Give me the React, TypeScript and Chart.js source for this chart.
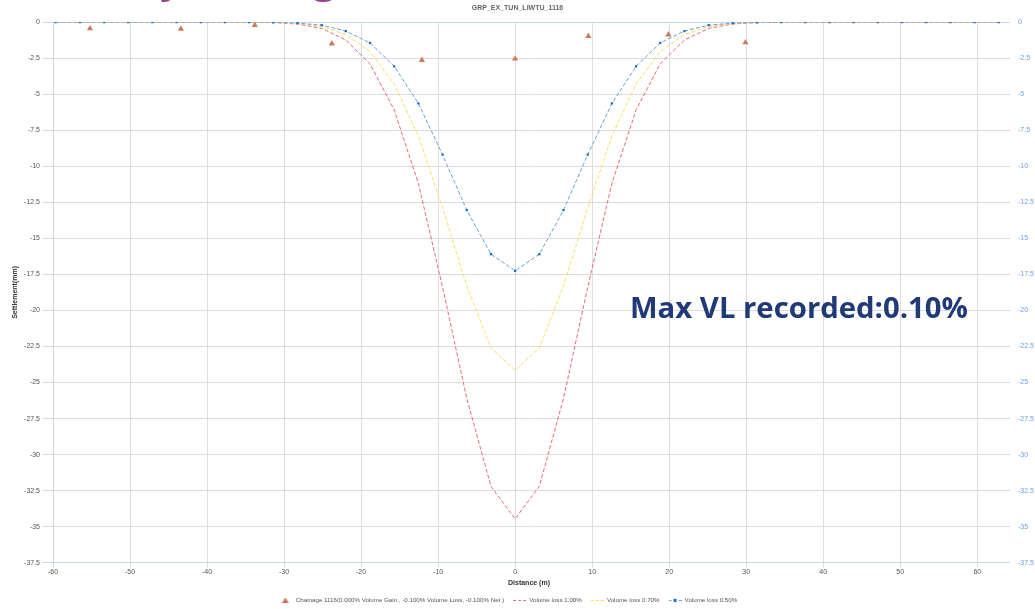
import React, { useEffect, useRef } from "react";
import { Chart, registerables } from "chart.js";

Chart.register(...registerables);

const FONT = "'Liberation Sans', Arial, sans-serif";

const chartTitle = "GRP_EX_TUN_LIWTU_1116";
const xAxisTitle = "Distance (m)";
const yAxisTitle = "Settlement(mm)";
const overlayText = "Max VL recorded:0.10%";

const legendLabels = [
  "Chainage 1116(0.000% Volume Gain , -0.100% Volume Loss, -0.100% Net )",
  "Volume loss 1.00%",
  "Volume loss 0.70%",
  "Volume loss 0.50%",
];

const distances = [
  -59.66, -56.52, -53.38, -50.24, -47.1, -43.96, -40.82, -37.68, -34.54, -31.4,
  -28.26, -25.12, -21.98, -18.84, -15.7, -12.56, -9.42, -6.28, -3.14, 0,
  3.14, 6.28, 9.42, 12.56, 15.7, 18.84, 21.98, 25.12, 28.26, 31.4,
  34.54, 37.68, 40.82, 43.96, 47.1, 50.24, 53.38, 56.52, 59.66, 62.8,
];

const volumeLoss100 = [
  0, 0, 0, 0, 0, 0, 0, 0, -0.01, -0.04,
  -0.14, -0.44, -1.25, -2.9, -6.1, -11.2, -18.4, -26.1, -32.2, -34.45,
  -32.2, -26.1, -18.4, -11.2, -6.1, -2.9, -1.25, -0.44, -0.14, -0.04,
  -0.01, 0, 0, 0, 0, 0, 0, 0, 0, 0,
];

const volumeLoss070 = [
  0, 0, 0, 0, 0, 0, 0, 0, 0, -0.03,
  -0.1, -0.3, -0.87, -2.05, -4.3, -7.9, -12.9, -18.3, -22.6, -24.15,
  -22.6, -18.3, -12.9, -7.9, -4.3, -2.05, -0.87, -0.3, -0.1, -0.03,
  0, 0, 0, 0, 0, 0, 0, 0, 0, 0,
];

const volumeLoss050 = [
  0, 0, 0, 0, 0, 0, 0, 0, 0, -0.02,
  -0.08, -0.22, -0.63, -1.45, -3.07, -5.65, -9.2, -13.05, -16.1, -17.25,
  -16.1, -13.05, -9.2, -5.65, -3.07, -1.45, -0.63, -0.22, -0.08, -0.02,
  0, 0, 0, 0, 0, 0, 0, 0, 0, 0,
];

const chainageX = [-55.2, -43.4, -33.8, -23.8, -12.1, 0, 9.5, 19.9, 29.9];
const chainageY = [-0.45, -0.48, -0.22, -1.5, -2.65, -2.55, -0.98, -0.88, -1.42];

const xMin = -60;
const xMax = 63.6;
const xStep = 10;
const yMin = -37.5;
const yMax = 0;
const yStep = 2.5;

const COLORS = {
  chainage: "#c97b5b",
  vl100: "#e96b79",
  vl070: "#fbdc5a",
  vl050: "#6aa1d8",
  vl050Point: "#1a6fc4",
  grid: "#dcdcdc",
  gridX: "#dcdee3",
  edge: "#c6d6ec",
  tick: "#555555",
  tickRight: "#6b9fe4",
};

function makeLineSwatch(color: string, withPoint: boolean, pointColor?: string) {
  const c = document.createElement("canvas");
  c.width = 13;
  c.height = 6;
  const g = c.getContext("2d")!;
  g.strokeStyle = color;
  g.lineWidth = 1;
  g.setLineDash([3, 2]);
  g.beginPath();
  g.moveTo(0, 3.5);
  g.lineTo(13, 3.5);
  g.stroke();
  if (withPoint && pointColor) {
    g.fillStyle = pointColor;
    g.fillRect(5, 2, 3, 3);
  }
  return c;
}

function makeTriangleSwatch(color: string) {
  const c = document.createElement("canvas");
  c.width = 13;
  c.height = 6;
  const g = c.getContext("2d")!;
  g.fillStyle = color;
  g.beginPath();
  g.moveTo(5.5, 0.5);
  g.lineTo(9, 6);
  g.lineTo(2, 6);
  g.closePath();
  g.fill();
  return c;
}

const legendShift = {
  id: "legendShift",
  afterLayout(chart: any) {
    const lg = chart.legend;
    if (lg) {
      lg.left -= 9;
      lg.right -= 9;
    }
  },
};

export default function App() {
  const canvasRef = useRef<HTMLCanvasElement | null>(null);

  useEffect(() => {
    const canvas = canvasRef.current;
    if (!canvas) return;

    const swatches = [
      makeTriangleSwatch(COLORS.chainage),
      makeLineSwatch(COLORS.vl100, false),
      makeLineSwatch(COLORS.vl070, false),
      makeLineSwatch(COLORS.vl050, true, COLORS.vl050Point),
    ];

    const toPoints = (vals: number[]) => distances.map((x, i) => ({ x, y: vals[i] }));

    const chart = new Chart(canvas, {
      type: "line",
      data: {
        datasets: [
          {
            label: legendLabels[0],
            data: chainageX.map((x, i) => ({ x, y: chainageY[i] })),
            showLine: false,
            pointStyle: "triangle",
            pointRadius: 3.6,
            pointBackgroundColor: COLORS.chainage,
            pointBorderColor: COLORS.chainage,
            pointBorderWidth: 0,
            borderColor: COLORS.chainage,
            backgroundColor: COLORS.chainage,
            order: 0,
          },
          {
            label: legendLabels[1],
            data: toPoints(volumeLoss100),
            borderColor: COLORS.vl100,
            borderWidth: 1,
            borderDash: [4, 2],
            pointRadius: 0,
            tension: 0,
            order: 3,
          },
          {
            label: legendLabels[2],
            data: toPoints(volumeLoss070),
            borderColor: COLORS.vl070,
            borderWidth: 1,
            borderDash: [4, 2],
            pointRadius: 0,
            tension: 0,
            order: 2,
          },
          {
            label: legendLabels[3],
            data: toPoints(volumeLoss050),
            borderColor: COLORS.vl050,
            borderWidth: 1,
            borderDash: [4, 2],
            pointRadius: 1.6,
            pointStyle: "rect",
            pointBackgroundColor: COLORS.vl050Point,
            pointBorderColor: COLORS.vl050Point,
            pointBorderWidth: 0,
            tension: 0,
            order: 1,
          },
        ],
      },
      plugins: [legendShift],
      options: {
        animation: false,
        responsive: false,
        maintainAspectRatio: false,
        layout: { padding: { left: 0, right: 0, top: 0, bottom: -4 } },
        plugins: {
          title: {
            display: true,
            text: chartTitle,
            color: "#666666",
            font: { size: 7, weight: "bold", family: FONT },
            padding: { top: 4, bottom: 9.6 },
          },
          legend: {
            position: "bottom",
            labels: {
              usePointStyle: true,
              pointStyleWidth: 13,
              boxHeight: 6,
              padding: 9,
              color: "#555555",
              font: { size: 6.2, family: FONT },
              generateLabels: (ch: any) =>
                ch.data.datasets.map((ds: any, i: number) => ({
                  text: ds.label,
                  fillStyle: ds.borderColor,
                  strokeStyle: ds.borderColor,
                  lineWidth: 0,
                  pointStyle: swatches[i],
                  hidden: false,
                  datasetIndex: i,
                  fontColor: "#555555",
                })),
            },
          },
          tooltip: { enabled: false },
        },
        scales: {
          x: {
            type: "linear",
            min: xMin,
            max: xMax,
            ticks: {
              stepSize: xStep,
              includeBounds: false,
              color: COLORS.tick,
              font: { size: 7, family: FONT },
              padding: 0,
              maxRotation: 0,
              callback: (v: any) => String(v),
            },
            grid: { color: COLORS.gridX, tickLength: 5 },
            border: { color: COLORS.edge },
            title: {
              display: true,
              text: xAxisTitle,
              color: "#333333",
              font: { size: 7, weight: "bold", family: FONT },
              padding: { top: 0, bottom: 1 },
            },
            afterFit: (s: any) => {
              s.height = 25;
            },
          },
          y: {
            type: "linear",
            position: "left",
            min: yMin,
            max: yMax,
            ticks: {
              stepSize: yStep,
              color: COLORS.tick,
              font: { size: 7, family: FONT },
              padding: 3,
              callback: (v: any) => String(v),
            },
            grid: {
              color: (ctx: any) =>
                ctx.tick && (ctx.tick.value === yMax || ctx.tick.value === yMin) ? COLORS.edge : COLORS.grid,
              tickLength: 10,
            },
            border: { color: "#d4d4d4" },
            title: {
              display: true,
              text: yAxisTitle,
              color: "#333333",
              font: { size: 7, weight: "bold", family: FONT },
              padding: { top: 10.8, bottom: 0 },
            },
            afterFit: (s: any) => {
              s.width = 53;
            },
          },
          y2: {
            type: "linear",
            position: "right",
            min: yMin,
            max: yMax,
            ticks: {
              stepSize: yStep,
              color: COLORS.tickRight,
              font: { size: 7, family: FONT },
              padding: 8,
              callback: (v: any) => String(v),
            },
            grid: { drawOnChartArea: false, tickLength: 5, color: COLORS.grid },
            border: { display: false },
            afterFit: (s: any) => {
              s.width = 30;
            },
          },
        },
      } as any,
    });

    return () => {
      chart.destroy();
    };
  }, []);

  return (
    <div
      style={{
        position: "absolute",
        left: 0,
        top: 0,
        width: 1035,
        height: 609,
        overflow: "hidden",
        background: "#ffffff",
      }}
    >
      <canvas ref={canvasRef} width={1035} height={609} style={{ display: "block", width: 1035, height: 609 }} />
      <span
        style={{
          position: "absolute",
          left: 160,
          top: -42,
          fontFamily: "'Open Sans', sans-serif",
          fontWeight: 700,
          fontSize: 40,
          lineHeight: "40px",
          color: "#a0438e",
          whiteSpace: "pre",
        }}
      >
        y
      </span>
      <span
        style={{
          position: "absolute",
          left: 313,
          top: -42,
          fontFamily: "'Open Sans', sans-serif",
          fontWeight: 700,
          fontSize: 40,
          lineHeight: "40px",
          color: "#a0438e",
          whiteSpace: "pre",
        }}
      >
        g
      </span>
      <div
        style={{
          position: "absolute",
          left: 630,
          top: 292,
          fontFamily: "'Open Sans', sans-serif",
          fontWeight: 700,
          fontSize: 29.3,
          lineHeight: "30px",
          color: "#203a78",
          whiteSpace: "pre",
        }}
      >
        {overlayText}
      </div>
    </div>
  );
}
